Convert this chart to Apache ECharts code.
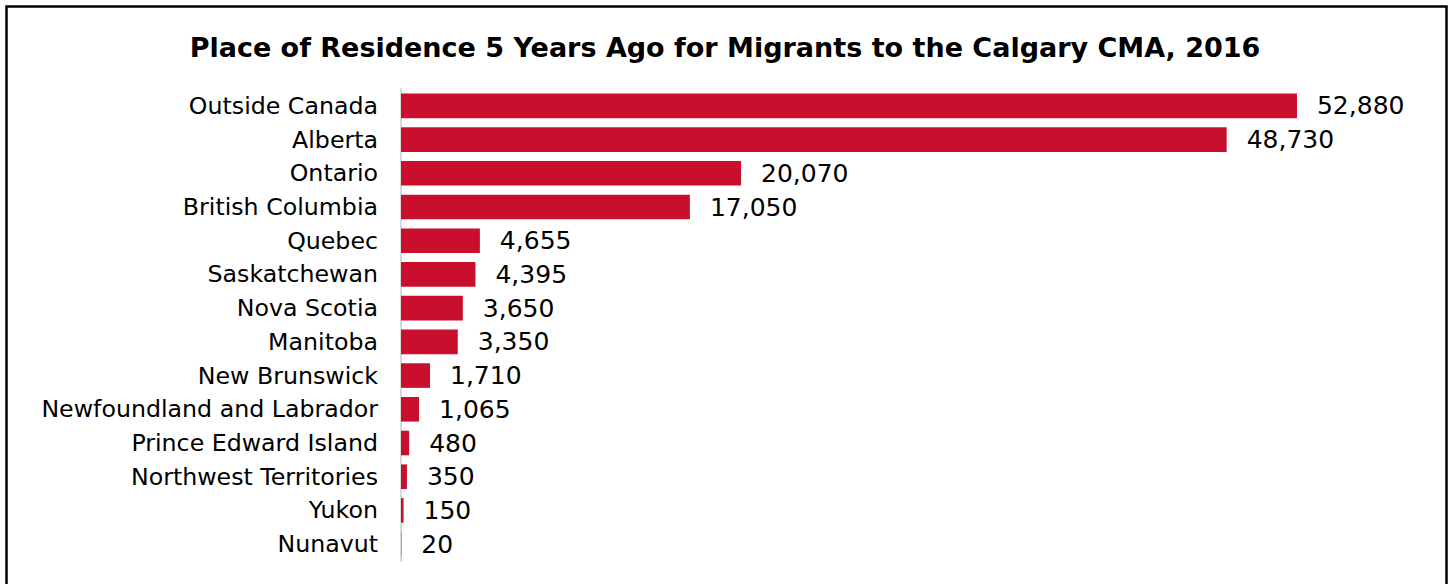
<!DOCTYPE html>
<html>
<head>
<meta charset="utf-8">
<script src="https://cdn.jsdelivr.net/npm/echarts@6/dist/echarts.min.js"></script>
<style>
  html, body { margin: 0; padding: 0; background: #fff; }
  #chartContainer { width: 1450px; height: 584px; }
</style>
</head>
<body>
<div id="chartContainer"></div>
<script>
// data, top to bottom
const places = ['Outside Canada', 'Alberta', 'Ontario', 'British Columbia', 'Quebec',
  'Saskatchewan', 'Nova Scotia', 'Manitoba', 'New Brunswick', 'Newfoundland and Labrador',
  'Prince Edward Island', 'Northwest Territories', 'Yukon', 'Nunavut'];
const migrants = [52880, 48730, 20070, 17050, 4655, 4395, 3650, 3350, 1710, 1065, 480, 350, 150, 20];

var myChart = echarts.init(document.getElementById('chartContainer'), null, { renderer: 'svg' });

var font = '"DejaVu Sans", sans-serif';

myChart.setOption({
    animation: false,
    title: {
        text: 'Place of Residence 5 Years Ago for Migrants to the Calgary CMA, 2016',
        left: 'center',
        top: 29,
        textStyle: { fontFamily: font, fontSize: 27, fontWeight: 'bold', color: '#000' }
    },
    graphic: [{
        type: 'rect',
        shape: { x: 6.5, y: 6.5, width: 1440, height: 700 },
        style: { fill: 'none', stroke: '#000', lineWidth: 2.5 },
        silent: true
    }],
    grid: { left: 401, top: 89, width: 1016.6, height: 472 },
    xAxis: {
        type: 'value',
        min: 0,
        max: 60000,
        show: false
    },
    yAxis: {
        type: 'category',
        inverse: true,
        data: places,
        axisLine: { show: true, lineStyle: { color: '#d9d9d9', width: 2 } },
        axisTick: { show: false },
        axisLabel: { fontFamily: font, fontSize: 23.7, color: '#000', margin: 23 }
    },
    series: [{
        type: 'bar',
        data: migrants,
        barCategoryGap: '27%',
        itemStyle: { color: '#C8102E' },
        label: {
            show: true,
            position: 'right',
            distance: 20,
            fontFamily: font,
            fontSize: 25,
            color: '#000',
            formatter: function (p) { return p.value.toLocaleString('en-US'); }
        }
    }]
});
</script>
</body>
</html>
